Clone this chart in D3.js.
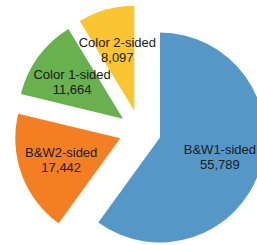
<!DOCTYPE html>
<html>
<head>
<meta charset="utf-8">
<script src="https://cdn.jsdelivr.net/npm/d3@7"></script>
<style>
  html, body { margin: 0; padding: 0; background: #fff; }
  svg { display: block; }
</style>
</head>
<body>
<svg id="chart" width="257" height="245"></svg>
<script>
var categories = ["B&W1-sided", "B&W2-sided", "Color 1-sided", "Color 2-sided"];
var values = [55789, 17442, 11664, 8097];
var colors = ["#5598c8", "#f47f22", "#69b04e", "#f9c632"];

var svg = d3.select("#chart");
var cx = 140, cy = 131, radius = 105, explode = 21, labelPos = 0.6;

var pie = d3.pie().sort(null).value(function(d) { return d.value; });
var arc = d3.arc().innerRadius(0).outerRadius(radius);

var data = categories.map(function(c, i) { return {name: c, value: values[i], color: colors[i]}; });
var fmt = d3.format(",");

var g = svg.append("g").attr("transform", "translate(" + cx + "," + cy + ")");

var slices = g.selectAll("g.slice").data(pie(data)).enter().append("g")
    .attr("class", "slice")
    .attr("transform", function(d) {
        var a = (d.startAngle + d.endAngle) / 2;
        return "translate(" + (Math.sin(a) * explode) + "," + (-Math.cos(a) * explode) + ")";
    });

slices.append("path")
    .attr("d", arc)
    .attr("fill", function(d) { return d.data.color; });

var label = slices.append("text")
    .attr("font-family", "Liberation Sans, Arial, sans-serif")
    .attr("font-size", "13px")
    .attr("fill", "#1a1a1a")
    .attr("text-anchor", "middle")
    .attr("transform", function(d) {
        var a = (d.startAngle + d.endAngle) / 2;
        return "translate(" + (Math.sin(a) * radius * labelPos) + "," + (-Math.cos(a) * radius * labelPos) + ")";
    });

label.append("tspan").attr("x", 0).attr("y", -7.5).attr("dominant-baseline", "central")
    .text(function(d) { return d.data.name; });
label.append("tspan").attr("x", 0).attr("y", 7.5).attr("dominant-baseline", "central")
    .text(function(d) { return fmt(d.data.value); });
</script>
</body>
</html>
